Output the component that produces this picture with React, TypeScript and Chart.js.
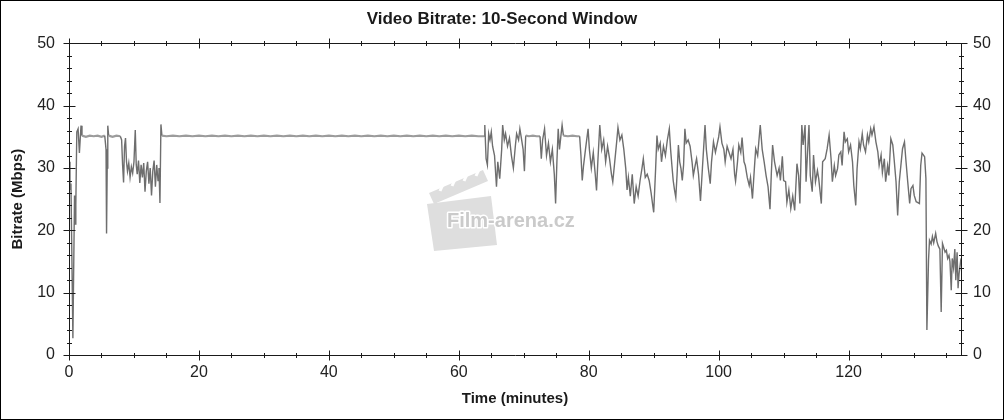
import React, { useEffect, useRef } from "react";
import { Chart, registerables } from "chart.js";

Chart.register(...registerables);

// ---- data (minutes, Mbps) ----
const introTime = [0, 0.15, 0.3, 0.6, 0.85, 0.95, 1.05, 1.2, 1.4, 1.6, 1.85, 2.0, 2.6, 3.2, 3.8, 4.4, 5.0, 5.5, 5.7, 5.78, 5.88, 5.97, 6.1, 6.7, 7.3, 7.9, 8.1, 8.25, 8.4, 8.55, 8.7, 8.85, 9.0, 9.2, 9.4, 9.6, 9.8, 10.0, 10.2, 10.35, 10.5, 10.7, 10.9, 11.1, 11.3, 11.5, 11.7, 11.9, 12.1, 12.3, 12.5, 12.7, 12.9, 13.1, 13.3, 13.5, 13.7, 13.85, 14.0, 14.15, 14.3];
const introRate = [31, 26.5, 27.5, 2.7, 25.6, 21, 24, 35.8, 36.3, 32.4, 36.8, 35.2, 35.0, 35.2, 35.1, 35.2, 35.0, 35.2, 33, 19.5, 30, 36.8, 35.2, 35.0, 35.2, 35.1, 34.5, 30.5, 27.7, 33.5, 34.8, 31, 29.5, 30.8, 28.5, 30.2, 29.2, 31, 36.1, 30.5, 29, 31.2, 27.6, 30.5, 28.5, 30.8, 26.2, 29.5, 31, 27.5, 30, 25.6, 29.5, 31.2, 27, 30.5, 28, 30, 24.4, 37, 35.2];

const flatTime = [15, 16, 17, 18, 19, 20, 21, 22, 23, 24, 25, 26, 27, 28, 29, 30, 31, 32, 33, 34, 35, 36, 37, 38, 39, 40, 41, 42, 43, 44, 45, 46, 47, 48, 49, 50, 51, 52, 53, 54, 55, 56, 57, 58, 59, 60, 61, 62, 63, 63.9];
const flatRate = [35.1, 35.2, 35.1, 35.2, 35.1, 35.2, 35.1, 35.2, 35.1, 35.2, 35.1, 35.2, 35.1, 35.2, 35.1, 35.2, 35.1, 35.2, 35.1, 35.2, 35.1, 35.2, 35.1, 35.2, 35.1, 35.2, 35.1, 35.2, 35.1, 35.2, 35.1, 35.2, 35.1, 35.2, 35.1, 35.2, 35.1, 35.2, 35.1, 35.2, 35.1, 35.2, 35.1, 35.2, 35.1, 35.2, 35.1, 35.2, 35.1, 35.1];

const midTime = [64.0, 64.2, 64.4, 64.6, 64.8, 65.0, 65.2, 65.5, 65.8, 66.0, 66.3, 66.6, 66.75, 67.0, 67.2, 67.5, 67.8, 68.1, 68.4, 68.7, 68.9, 69.2, 69.4, 69.6, 69.9, 70.1, 70.3, 70.8, 71.4, 72.0, 72.5, 72.7, 72.9, 73.2, 73.5, 73.8, 74.1, 74.4, 74.7, 74.9, 75.1, 75.3, 75.5, 75.7, 75.9, 76.1, 76.8, 77.5, 78.2, 78.6, 78.8, 79.0, 79.2, 79.5, 79.9, 80.1, 80.4, 80.7, 81.0, 81.2, 81.4, 81.7, 82.0, 82.3, 82.6, 82.9, 83.2, 83.5, 83.7, 84.0, 84.3, 84.5, 84.8, 85.1, 85.4, 85.7, 85.9, 86.1, 86.4, 86.7, 87.0, 87.3, 87.6, 87.9];
const midRate = [36.9, 31.5, 30.5, 35.5, 34.5, 35.8, 33.5, 32, 27.0, 31, 28.3, 33, 36.9, 34.5, 35.5, 33.5, 34.8, 32, 30.0, 33.5, 35.5, 34.5, 36.3, 35, 33, 29.5, 35.2, 35.1, 35.2, 35.1, 35.1, 31.5, 34.5, 36.3, 32, 34, 31, 33, 29, 24.3, 31, 36.3, 33, 35, 36.9, 35.2, 35.1, 35.2, 35.1, 35.1, 32, 28, 30.4, 33, 36.3, 33, 30, 32.5, 29, 26.4, 31, 36.9, 33, 34.5, 31, 33.5, 31.5, 29, 27.8, 31, 34.2, 36.5, 34.5, 35.3, 33, 29.9, 26.5, 28.5, 25.5, 29, 24.3, 27, 25.5, 28];

const mainTime = [88.2, 88.4, 88.7, 89.0, 89.3, 89.6, 89.85, 90.0, 90.3, 90.5, 90.7, 91.0, 91.2, 91.5, 91.8, 92.1, 92.4, 92.6, 92.8, 93.0, 93.2, 93.4, 93.6, 93.8, 94.0, 94.2, 94.4, 94.6, 94.8, 95.0, 95.3, 95.6, 95.9, 96.1, 96.4, 96.6, 96.9, 97.2, 97.5, 97.9, 98.1, 98.4, 98.7, 98.9, 99.2, 99.5, 99.7, 100.0, 100.2, 100.5, 100.8, 101.0, 101.3, 101.6, 101.9, 102.2, 102.45, 102.6, 102.9, 103.1, 103.4, 103.6, 103.9, 104.1, 104.4, 104.7, 104.9, 105.2, 105.5, 105.7, 106.0, 106.4, 106.7, 107.0, 107.3, 107.6, 107.9, 108.1, 108.3, 108.6, 109.0, 109.3, 109.5, 109.8, 110.0, 110.3, 110.5, 110.8, 111.1, 111.4, 111.7];
const mainRate = [30, 31.5, 28.5, 29, 28, 26, 24, 22.9, 30, 35.2, 33, 34, 31, 33.5, 32, 34.5, 36.3, 33, 30.4, 28, 26.5, 25.3, 29, 33.7, 31, 29.9, 28, 30.5, 36.3, 34, 34.5, 33.5, 31, 28.8, 30.5, 31.5, 29, 24.7, 30, 36.9, 33, 30, 27.5, 31, 34.2, 32.5, 33.5, 35, 36.6, 34, 33, 31, 33.5, 32.5, 31.5, 33, 29, 27.9, 31, 33.7, 32.5, 34.9, 31, 30.4, 28.5, 27.2, 28.5, 25.1, 30, 33.1, 32, 36.9, 33, 31, 28.8, 27, 23.4, 29, 33.7, 31, 28.8, 30, 28, 31.9, 28, 27.8, 24.5, 26.5, 23.5, 25.5, 23.2];

const lateTime = [112.05, 112.3, 112.5, 112.8, 113.0, 113.3, 113.45, 113.9, 114.1, 114.4, 114.6, 114.9, 115.2, 115.4, 115.8, 116.0, 116.4, 116.7, 117.0, 117.3, 117.5, 117.8, 118.0, 118.3, 118.5, 118.8, 119.0, 119.3, 119.5, 119.8, 120.0, 120.3, 120.6, 120.8, 121.1, 121.3, 121.6, 121.8, 122.1, 122.3, 122.6, 122.9, 123.1, 123.4, 123.6, 123.9, 124.2, 124.5, 124.7, 125.0, 125.2, 125.5, 125.7, 126.0, 126.2, 126.5, 126.8, 127.0, 127.3, 127.55, 127.8, 128.1, 128.3, 128.6, 128.8, 129.1, 129.4, 129.6, 129.9, 130.1, 130.4, 130.6, 130.9, 131.1, 131.3, 131.5, 131.7, 131.9, 132.05];
const lateRate = [30.7, 28.8, 24.3, 36.9, 33.7, 36.9, 27.8, 36.9, 28.8, 26.2, 32.1, 27.8, 29.6, 28.3, 24.3, 31.0, 31.5, 33.1, 35.3, 31.5, 27.8, 30.4, 28.8, 29.9, 32.1, 32.6, 30.4, 35.8, 34.2, 34.7, 32.6, 33.7, 31.0, 27.2, 24.0, 29.9, 34.2, 33.1, 35.5, 33.7, 32.6, 35.3, 34.2, 36.3, 35.3, 36.6, 34.2, 32.6, 30.4, 32.1, 29.3, 31.5, 27.8, 30.4, 28.8, 34.7, 33.7, 31.5, 27.8, 22.4, 27.8, 31.0, 33.1, 34.2, 31.5, 27.8, 24.3, 26.7, 27.2, 25.6, 24.6, 24.5, 24.3, 30.4, 32.4, 32.1, 31.8, 28.3, 4.0];

const endTime = [132.3, 132.45, 132.7, 132.9, 133.1, 133.4, 133.6, 133.8, 134.05, 134.25, 134.45, 134.65, 134.85, 135.05, 135.25, 135.45, 135.6, 135.8, 135.95, 136.15, 136.35, 136.5, 136.7, 136.85, 137.0, 137.3];
const endRate = [15.2, 18.4, 17.8, 19.0, 18.0, 19.5, 18.2, 17.5, 17.0, 6.9, 17.9, 17.2, 16.5, 16.8, 15.5, 16.0, 15.0, 10.4, 15.5, 14.0, 17.0, 12.0, 16.5, 10.7, 13.0, 15.5];

const timeMin = [...introTime, ...flatTime, ...midTime, ...mainTime, ...lateTime, ...endTime];
const bitrateMbps = [...introRate, ...flatRate, ...midRate, ...mainRate, ...lateRate, ...endRate];

const xMajorTicks = [0, 20, 40, 60, 80, 100, 120];
const yMajorTicks = [0, 10, 20, 30, 40, 50];
const X_MAX = 137.3;

const FONT = '"Liberation Sans", Arial, sans-serif';

const isFlat = (a: number, b: number) => a >= 34.9 && a <= 35.3 && b >= 34.9 && b <= 35.3;

const framePlugin = {
  id: "frame",
  beforeDatasetsDraw(chart: any) {
    const ctx = chart.ctx;
    ctx.save();
    // watermark clapperboard
    ctx.fillStyle = "#dedede";
    ctx.beginPath();
    ctx.moveTo(427, 204);
    ctx.lineTo(491, 196);
    ctx.lineTo(497, 245);
    ctx.lineTo(434, 251);
    ctx.closePath();
    ctx.fill();
    ctx.beginPath();
    ctx.moveTo(429, 193);
    ctx.lineTo(483, 170);
    ctx.lineTo(488, 181);
    ctx.lineTo(434, 204);
    ctx.closePath();
    ctx.fill();
    ctx.strokeStyle = "#ffffff";
    ctx.lineWidth = 3;
    for (let i = 0; i < 4; i++) {
      const bx = 440 + i * 12;
      const by = 189 - i * 5;
      ctx.beginPath();
      ctx.moveTo(bx, by + 2);
      ctx.lineTo(bx + 5, by - 9);
      ctx.stroke();
    }
    ctx.font = `bold 20px ${FONT}`;
    ctx.lineJoin = "round";
    ctx.strokeStyle = "#ffffff";
    ctx.lineWidth = 3;
    ctx.strokeText("Film-arena.cz", 447, 227);
    ctx.fillStyle = "#cacaca";
    ctx.fillText("Film-arena.cz", 447, 227);
    ctx.restore();
  },
  afterDraw(chart: any) {
    const ctx = chart.ctx;
    const { left, right, top, bottom } = chart.chartArea;
    const xs = chart.scales.x;
    const ys = chart.scales.y;
    ctx.save();
    ctx.strokeStyle = "#1a1a1a";
    ctx.lineWidth = 1;
    const L = Math.round(left) + 0.5;
    const R = Math.round(right) + 0.5;
    const T = Math.round(top) + 0.5;
    const B = Math.round(bottom) + 0.5;
    ctx.beginPath();
    ctx.moveTo(L, T);
    ctx.lineTo(R, T);
    ctx.lineTo(R, B);
    ctx.lineTo(L, B);
    ctx.closePath();
    ctx.stroke();
    ctx.beginPath();
    for (let v = 0; v <= X_MAX; v += 5) {
      const px = Math.round(xs.getPixelForValue(v)) + 0.5;
      const major = v % 20 === 0;
      const h = major ? 5 : 2.5;
      ctx.moveTo(px, B - h);
      ctx.lineTo(px, B + h);
      ctx.moveTo(px, T - h);
      ctx.lineTo(px, T + h);
    }
    for (let v = 0; v <= 50; v += 2) {
      const py = Math.round(ys.getPixelForValue(v)) + 0.5;
      const major = v % 10 === 0;
      const w = major ? 6 : 2.5;
      ctx.moveTo(L - w, py);
      ctx.lineTo(L + w, py);
      ctx.moveTo(R - w, py);
      ctx.lineTo(R + w, py);
    }
    ctx.stroke();
    ctx.strokeStyle = "#000000";
    ctx.strokeRect(0.5, 0.5, chart.width - 1, chart.height - 1);
    ctx.restore();
  },
};

export default function App() {
  const canvasRef = useRef<HTMLCanvasElement | null>(null);

  useEffect(() => {
    document.body.style.margin = "0";
    const canvas = canvasRef.current;
    if (!canvas) return;
    const points = timeMin.map((t, i) => ({ x: t, y: bitrateMbps[i] }));
    const tickFont = { family: FONT, size: 16 };
    const titleFont = { family: FONT, size: 15, weight: "bold" as const };
    const chart = new Chart(canvas, {
      type: "line",
      data: {
        datasets: [
          {
            data: points,
            borderColor: "#6e6e6e",
            borderWidth: 1.4,
            pointRadius: 0,
            tension: 0,
            fill: false,
            segment: {
              borderColor: (c: any) => (isFlat(c.p0.parsed.y, c.p1.parsed.y) ? "#9c9c9c" : "#6e6e6e"),
              borderWidth: (c: any) => (isFlat(c.p0.parsed.y, c.p1.parsed.y) ? 2.2 : 1.4),
            },
          },
        ],
      },
      plugins: [framePlugin],
      options: {
        responsive: false,
        animation: false,
        devicePixelRatio: 1,
        layout: { padding: 0 },
        plugins: {
          legend: { display: false },
          tooltip: { enabled: false },
          title: {
            display: true,
            text: "Video Bitrate: 10-Second Window",
            color: "#1a1a1a",
            font: { family: FONT, size: 17, weight: "bold" },
            padding: { top: 9, bottom: 14 },
          },
        },
        scales: {
          x: {
            type: "linear",
            position: "bottom",
            min: 0,
            max: X_MAX,
            afterBuildTicks: (s: any) => {
              s.ticks = xMajorTicks.map((v) => ({ value: v }));
            },
            afterFit: (s: any) => {
              s.height = 65;
            },
            grid: { display: false, drawTicks: false },
            border: { display: false },
            ticks: { color: "#222", font: tickFont, padding: 8, maxRotation: 0, autoSkip: false },
            title: {
              display: true,
              text: "Time (minutes)",
              color: "#1a1a1a",
              font: titleFont,
              padding: { top: 0, bottom: 12 },
            },
          },
          y: {
            type: "linear",
            position: "left",
            min: 0,
            max: 50,
            afterBuildTicks: (s: any) => {
              s.ticks = yMajorTicks.map((v) => ({ value: v }));
            },
            afterFit: (s: any) => {
              s.width = 69;
            },
            grid: { display: false, drawTicks: false },
            border: { display: false },
            ticks: { color: "#222", font: tickFont, padding: 14 },
            title: {
              display: true,
              text: "Bitrate (Mbps)",
              color: "#1a1a1a",
              font: titleFont,
              padding: { top: 9, bottom: 0 },
            },
          },
          y2: {
            type: "linear",
            position: "right",
            min: 0,
            max: 50,
            afterBuildTicks: (s: any) => {
              s.ticks = yMajorTicks.map((v) => ({ value: v }));
            },
            afterFit: (s: any) => {
              s.width = 43;
            },
            grid: { display: false, drawTicks: false },
            border: { display: false },
            ticks: { color: "#222", font: tickFont, padding: 12 },
          },
        },
      },
    });
    return () => chart.destroy();
  }, []);

  return (
    <div style={{ position: "absolute", left: 0, top: 0, width: 1004, height: 420, background: "#fff" }}>
      <canvas ref={canvasRef} width={1004} height={420} />
    </div>
  );
}
